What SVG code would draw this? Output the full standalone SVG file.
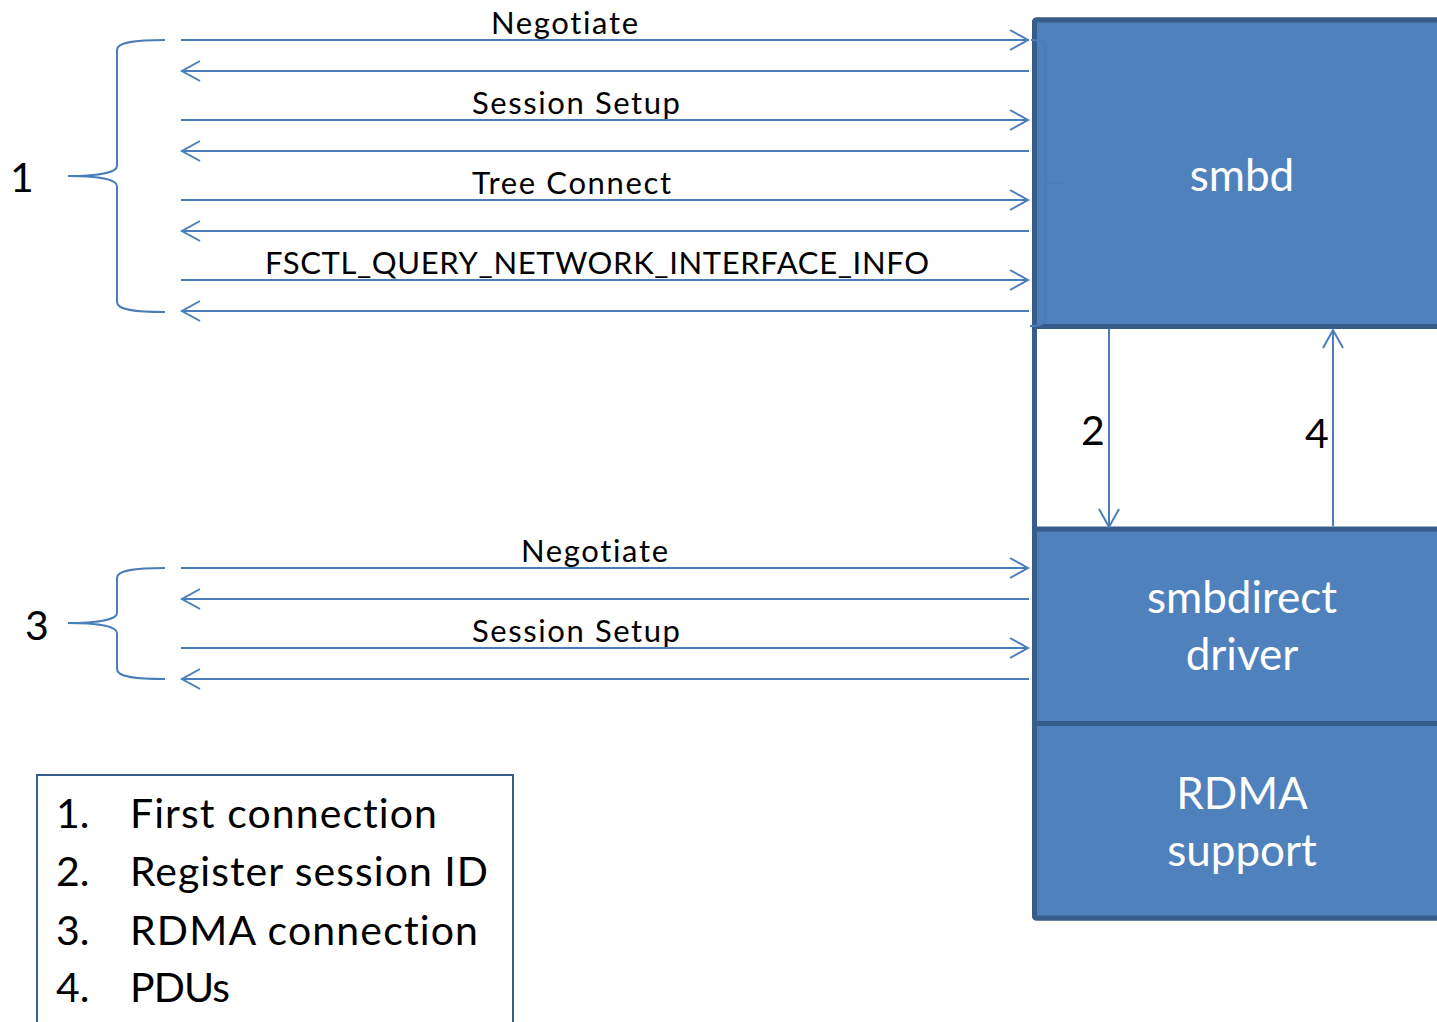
<svg xmlns="http://www.w3.org/2000/svg" width="1437" height="1022" viewBox="0 0 1437 1022">
  <style>
    text { font-variant-ligatures: none; }
    .box { fill: #4f81bd; stroke: #385d8a; stroke-width: 5; }
    .frame { fill: #ffffff; stroke: #385d8a; stroke-width: 5; }
    .msg { fill: none; stroke: #4a7ebb; stroke-width: 2; }
    .brace { fill: none; stroke: #4a7ebb; stroke-width: 2; }
    .lbl { font-family: Lato, "Open Sans", "Liberation Sans", sans-serif; fill: #000000; }
    .small { font-size: 31px; }
    .big { font-size: 41px; }
    .in { font-family: Lato, "Open Sans", "Liberation Sans", sans-serif; font-size: 44px; fill: #ffffff; text-anchor: middle; }
  </style>
  <defs>
    <marker id="open" markerUnits="userSpaceOnUse" viewBox="-20 -12 22 24" refX="0" refY="0" markerWidth="22" markerHeight="24" orient="auto" overflow="visible">
      <path d="M-18,-10 L0,0 L-18,10" fill="none" stroke="#4a7ebb" stroke-width="2"/>
    </marker>
  </defs>

  <rect width="1437" height="1022" fill="#ffffff"/>

  <!-- server stack -->
  <g id="stack">
    <rect class="frame" x="1034.5" y="20" width="460" height="898" rx="2"/>
  </g>
  <g id="smbd">
    <rect class="box" x="1034.5" y="20" width="460" height="306.5" rx="2"/>
    <path d="M1031,40 C1040,40 1045,41 1045,46 L1045,178 C1045,182 1050,183 1062,183 M1045,183 L1045,319 C1045,324 1040,326 1030,326" fill="none" stroke="#4a7cb8" stroke-width="2"/>
    <text class="in" x="1242" y="191">smbd</text>
  </g>
  <g id="smbdirect">
    <rect class="box" x="1034.5" y="529" width="460" height="194.5"/>
    <text class="in" x="1242" y="613">smbdirect</text>
    <text class="in" x="1242" y="670">driver</text>
  </g>
  <g id="rdma">
    <rect class="box" x="1034.5" y="723.5" width="460" height="194.5" rx="2"/>
    <text class="in" x="1242" y="809">RDMA</text>
    <text class="in" x="1242" y="866">support</text>
  </g>

  <!-- request / response connectors -->
  <g id="connectors">
    <line class="msg" x1="181" y1="40" x2="1028" y2="40" marker-end="url(#open)"/>
    <line class="msg" x1="1029" y1="71" x2="182" y2="71" marker-end="url(#open)"/>
    <line class="msg" x1="181" y1="120" x2="1028" y2="120" marker-end="url(#open)"/>
    <line class="msg" x1="1029" y1="151" x2="182" y2="151" marker-end="url(#open)"/>
    <line class="msg" x1="181" y1="200" x2="1028" y2="200" marker-end="url(#open)"/>
    <line class="msg" x1="1029" y1="231" x2="182" y2="231" marker-end="url(#open)"/>
    <line class="msg" x1="181" y1="280" x2="1028" y2="280" marker-end="url(#open)"/>
    <line class="msg" x1="1029" y1="311" x2="182" y2="311" marker-end="url(#open)"/>

    <line class="msg" x1="181" y1="568" x2="1028" y2="568" marker-end="url(#open)"/>
    <line class="msg" x1="1029" y1="599" x2="182" y2="599" marker-end="url(#open)"/>
    <line class="msg" x1="181" y1="648" x2="1028" y2="648" marker-end="url(#open)"/>
    <line class="msg" x1="1029" y1="679" x2="182" y2="679" marker-end="url(#open)"/>

    <line class="msg" x1="1109" y1="329" x2="1109" y2="527" marker-end="url(#open)"/>
    <line class="msg" x1="1333" y1="526" x2="1333" y2="330" marker-end="url(#open)"/>

    <path class="brace" d="M165,40 C135,40 117,42 117,50 L117,166 C117,173 95,176 68,176 C95,176 117,179 117,186 L117,302 C117,310 135,312 165,312"/>
    <path class="brace" d="M165,568 C135,568 117,570 117,578 L117,613 C117,620 95,623 68,623 C95,623 117,626 117,633 L117,669 C117,677 135,679 165,679"/>
  </g>

  <!-- message labels -->
  <g id="labels">
    <text class="lbl small" x="491" y="34" textLength="147">Negotiate</text>
    <text class="lbl small" x="472" y="114" textLength="208">Session Setup</text>
    <text class="lbl small" x="472" y="194" textLength="199">Tree Connect</text>
    <text class="lbl small" x="265" y="274" textLength="664">FSCTL_QUERY_NETWORK_INTERFACE_INFO</text>
    <text class="lbl small" x="521" y="562" textLength="147">Negotiate</text>
    <text class="lbl small" x="472" y="642" textLength="208">Session Setup</text>

    <text class="lbl big" x="10" y="192">1</text>
    <text class="lbl big" x="25" y="640">3</text>
    <text class="lbl big" x="1081" y="445">2</text>
    <text class="lbl big" x="1305" y="448">4</text>
  </g>

  <!-- legend -->
  <g id="legend">
    <rect x="37" y="775" width="476" height="260" fill="#ffffff" stroke="#385d8a" stroke-width="2"/>
    <text class="lbl big" x="56" y="828">1.</text>
    <text class="lbl big" x="130" y="828" textLength="307">First connection</text>
    <text class="lbl big" x="56" y="886">2.</text>
    <text class="lbl big" x="130" y="886" textLength="358">Register session ID</text>
    <text class="lbl big" x="56" y="945">3.</text>
    <text class="lbl big" x="130" y="945" textLength="348">RDMA connection</text>
    <text class="lbl big" x="56" y="1002">4.</text>
    <text class="lbl big" x="130" y="1002" textLength="100">PDUs</text>
  </g>
</svg>
